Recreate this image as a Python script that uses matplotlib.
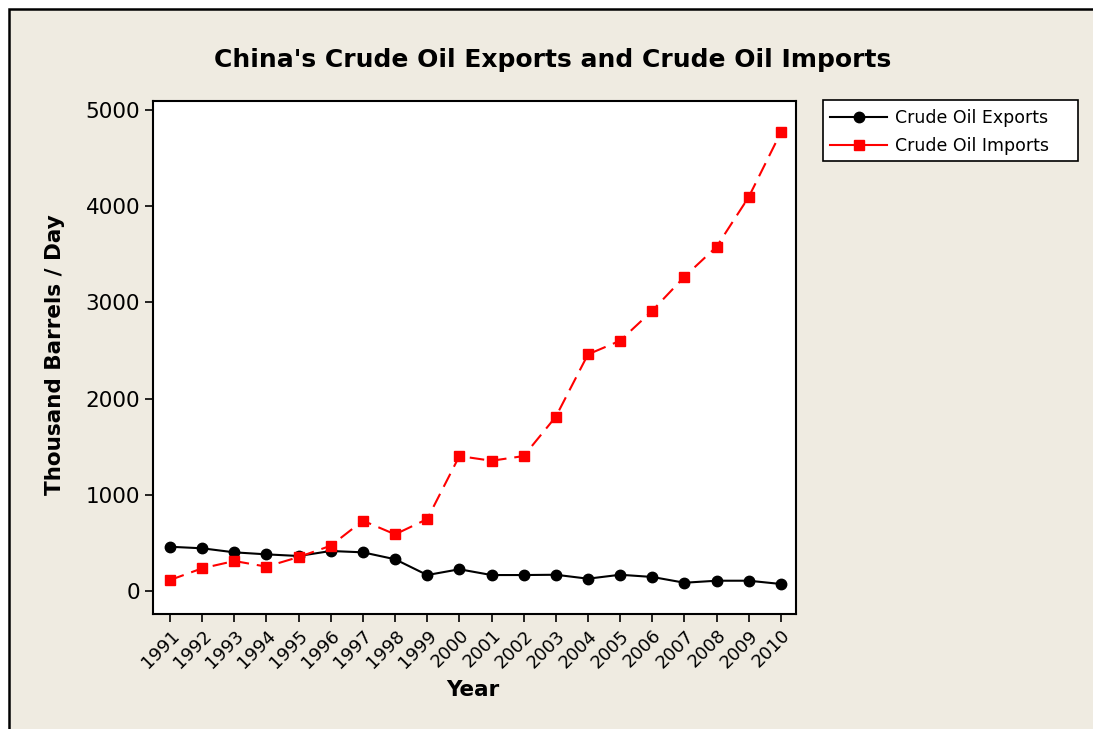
import matplotlib
matplotlib.use('Agg')
import matplotlib.pyplot as plt
from matplotlib.patches import Rectangle
from matplotlib.lines import Line2D

years = list(range(1991, 2011))
exports = [460, 444, 402, 381, 364, 416, 402, 330, 166, 226,
           166, 166, 169, 128, 169, 146, 86, 107, 107, 73]
imports = [114, 236, 312, 253, 353, 471, 731, 589, 748, 1403,
           1354, 1403, 1812, 2460, 2602, 2914, 3267, 3579, 4096, 4768]

W, H = 1093, 729
bg = '#efebe1'

fig = plt.figure(figsize=(W / 100, H / 100), dpi=100, facecolor='white')
# outer beige panel with border (cut off at right/bottom like the screenshot)
fig.patches.append(Rectangle((9 / W, -0.05), 1.1, 1 - 9 / H + 0.05,
                             transform=fig.transFigure, facecolor=bg,
                             edgecolor='black', linewidth=1.8, zorder=-1))
# legend box (drawn below the axes so the legend entries sit on top)
fig.patches.append(Rectangle((823 / W, 1 - 161 / H), (1078 - 823) / W, 61 / H,
                             transform=fig.transFigure, facecolor='white',
                             edgecolor='black', linewidth=1.2, zorder=-0.5))

ax = fig.add_axes([153.3 / W, 1 - 614 / H, (796 - 153.3) / W, (614 - 100.7) / H])
ax.set_facecolor('white')

ax.plot(years, exports, color='black', linewidth=1.5, marker='o',
        markersize=7.5)
ax.plot(years, imports, color='red', linewidth=1.5, marker='s',
        markersize=7, dashes=[7, 3.8])

ax.set_xlim(1990.48, 2010.47)
ax.set_ylim(-239, 5097)
ax.set_xticks(years)
ax.set_xticklabels([str(y) for y in years], rotation=45, ha='right',
                   rotation_mode='anchor', fontsize=13)
ax.set_yticks([0, 1000, 2000, 3000, 4000, 5000])
ax.tick_params(axis='y', labelsize=15.5, length=6, width=1.2, direction='out')
ax.tick_params(axis='x', length=6, width=1.2, direction='out', pad=3)
for s in ax.spines.values():
    s.set_linewidth(1.5)

fig.text(553 / W, 1 - 60 / H, "China's Crude Oil Exports and Crude Oil Imports",
         ha='center', va='center', fontsize=18, fontweight='bold')
fig.text(55 / W, 1 - 355 / H, 'Thousand Barrels / Day', rotation=90,
         ha='center', va='center', fontsize=15.5, fontweight='bold')
fig.text(473 / W, 1 - 690 / H, 'Year', ha='center', va='center',
         fontsize=15.5, fontweight='bold')

# legend handles drawn solid, like the reference
handles = [Line2D([], [], color='black', linewidth=1.5, marker='o', markersize=7.5),
           Line2D([], [], color='red', linewidth=1.5, marker='s', markersize=7)]
leg = ax.legend(handles, ['Crude Oil Exports', 'Crude Oil Imports'],
                loc='upper left', bbox_to_anchor=(823 / W, 1 - 102 / H),
                bbox_transform=fig.transFigure, borderaxespad=0,
                fontsize=12.5, frameon=False, handlelength=3.3,
                handletextpad=0.45, labelspacing=0.6, borderpad=0.4)

fig.savefig('out.png', dpi=100, facecolor=fig.get_facecolor())
